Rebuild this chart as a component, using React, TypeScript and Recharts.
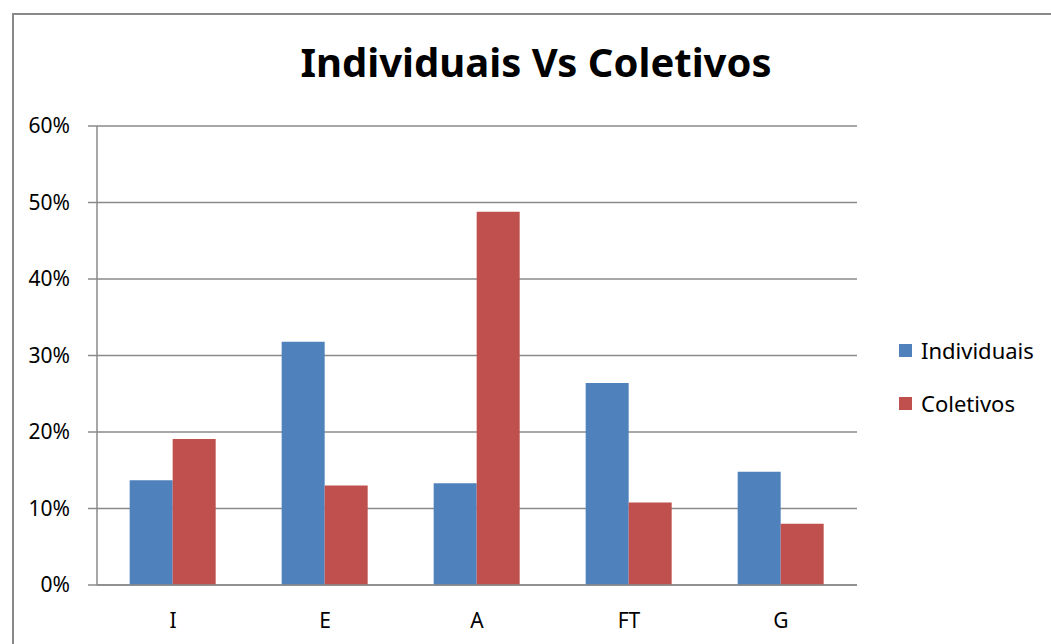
import { BarChart, Bar, XAxis, YAxis, CartesianGrid } from "recharts";

// categorias e valores (fração)
const categories = ["I", "E", "A", "FT", "G"];
const individuais = [0.137, 0.318, 0.133, 0.264, 0.148];
const coletivos = [0.191, 0.13, 0.488, 0.108, 0.08];
const yTicks = [0, 0.1, 0.2, 0.3, 0.4, 0.5, 0.6];

const SERIES = [
  { key: "Individuais", color: "#4F81BD" },
  { key: "Coletivos", color: "#C0504D" },
];

const FONT = "'Noto Sans', 'Open Sans', sans-serif";

const data = categories.map((name, i) => ({
  name,
  Individuais: individuais[i],
  Coletivos: coletivos[i],
}));

// legenda desenhada à parte, à direita do gráfico
const LegendBox = () => (
  <div style={{ position: "absolute", left: 899, top: 336, fontFamily: FONT, fontSize: 22, color: "#000" }}>
    {SERIES.map((s) => (
      <div
        key={s.key}
        style={{ display: "flex", alignItems: "center", height: 28, marginBottom: 25 }}
      >
        <span
          style={{ width: 13, height: 13, background: s.color, marginRight: 9, display: "inline-block" }}
        />
        <span>{s.key}</span>
      </div>
    ))}
  </div>
);

export default function App() {
  return (
    <div style={{ position: "absolute", left: 0, top: 0, width: 1051, height: 644, overflow: "hidden", background: "#fff" }}>
      <div
        style={{
          position: "absolute",
          left: 12,
          top: 13,
          width: 1100,
          height: 700,
          border: "2px solid #898989",
        }}
      />
      <div
        style={{
          position: "absolute",
          left: 0,
          top: 34,
          width: 1072,
          textAlign: "center",
          fontFamily: FONT,
          fontWeight: 700,
          fontSize: 40,
          color: "#000",
        }}
      >
        Individuais Vs Coletivos
      </div>
      <div style={{ position: "absolute", left: 0, top: 0 }}>
        <BarChart
          width={1051}
          height={644}
          data={data}
          margin={{ top: 126, right: 194, left: 37, bottom: 29 }}
          barCategoryGap="21.5%"
          barGap={0}
        >
          <CartesianGrid vertical={false} stroke="#8a8a8a" strokeWidth={1.5} />
          <XAxis
            dataKey="name"
            height={30}
            tickLine={false}
            tickSize={0}
            tickMargin={28}
            axisLine={{ stroke: "#8a8a8a", strokeWidth: 1.5 }}
            tick={{ fill: "#000", fontSize: 21, fontFamily: FONT }}
          />
          <YAxis
            width={60}
            domain={[0, 0.6]}
            ticks={yTicks}
            interval={0}
            tickFormatter={(v: number) => `${Math.round(v * 100)}%`}
            tickSize={9}
            tickMargin={18}
            axisLine={{ stroke: "#8a8a8a", strokeWidth: 1.5 }}
            tickLine={{ stroke: "#8a8a8a", strokeWidth: 1.5 }}
            tick={{ fill: "#000", fontSize: 21, fontFamily: FONT }}
          />
          {SERIES.map((s) => (
            <Bar key={s.key} dataKey={s.key} fill={s.color} isAnimationActive={false} />
          ))}
        </BarChart>
      </div>
      <LegendBox />
    </div>
  );
}
